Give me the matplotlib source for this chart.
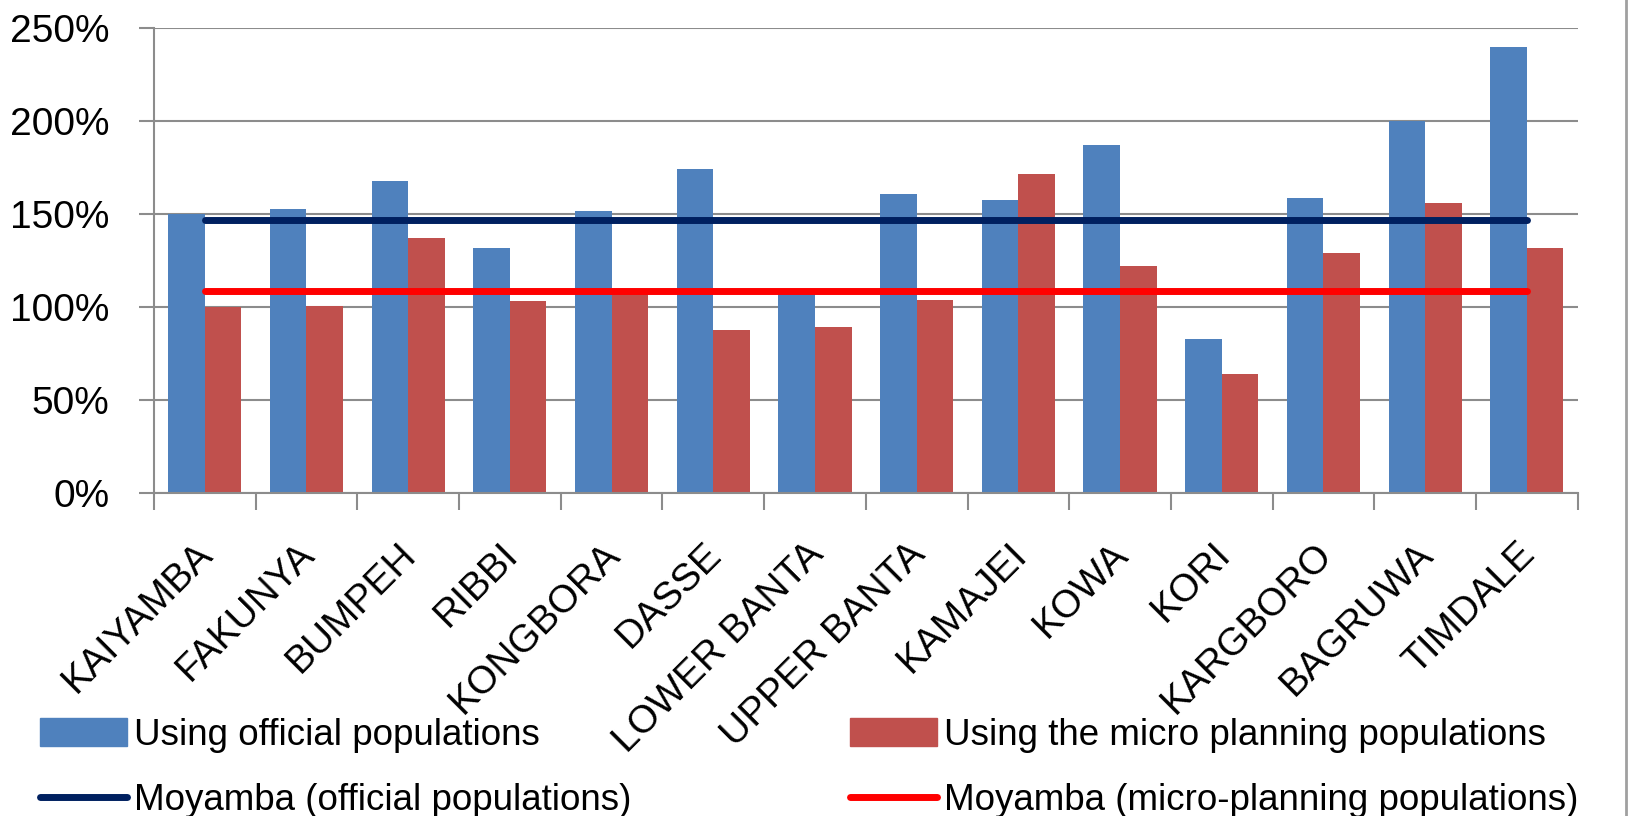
import matplotlib
matplotlib.use("Agg")
import numpy as np
from matplotlib import pyplot as plt
from matplotlib import transforms
from matplotlib.patches import Patch
from matplotlib.lines import Line2D
from matplotlib.ticker import FuncFormatter

plt.rcParams['font.family'] = ['Liberation Sans', 'DejaVu Sans']

chiefdoms = ["KAIYAMBA", "FAKUNYA", "BUMPEH", "RIBBI", "KONGBORA", "DASSE",
             "LOWER BANTA", "UPPER BANTA", "KAMAJEI", "KOWA", "KORI",
             "KARGBORO", "BAGRUWA", "TIMDALE"]
official = [150, 152.5, 168, 131.5, 151.5, 174, 108, 161, 157.5, 187, 83, 158.5, 200, 240]
micro = [100, 100.5, 137, 103, 107, 87.5, 89, 104, 171.5, 122, 64, 129, 156, 131.5]
district_official = 146.6
district_micro = 108.8

blue = "#4F81BD"
red_bar = "#C0504D"
navy = "#002060"
red_line = "#FF0000"
grid_col = "#8C8C8C"

fig = plt.figure(figsize=(16.29, 8.16), dpi=100)
ax = fig.add_axes([0.0945, 0.396, 0.874, 0.5696])

x = np.arange(len(chiefdoms))
w = 0.36
ax.bar(x - w / 2, official, w, color=blue, lw=0, zorder=2)
ax.bar(x + w / 2, micro, w, color=red_bar, lw=0, zorder=2)
ax.plot([x[0], x[-1]], [district_official] * 2, color=navy, lw=5,
        solid_capstyle='round', zorder=3)
ax.plot([x[0], x[-1]], [district_micro] * 2, color=red_line, lw=5,
        solid_capstyle='round', zorder=3)

ax.set_xlim(-0.5, len(chiefdoms) - 0.5)
ax.set_ylim(0, 250)
ax.set_yticks(range(0, 251, 50))
ax.yaxis.set_major_formatter(FuncFormatter(lambda v, p: f"{int(v)}%"))
ax.yaxis.grid(True, color=grid_col, lw=1.5, zorder=0)
ax.set_axisbelow(True)

for s in ['top', 'right']:
    ax.spines[s].set_visible(False)
for s in ['left', 'bottom']:
    ax.spines[s].set_color(grid_col)
    ax.spines[s].set_linewidth(1.5)

# tick marks sit on the category boundaries
ax.set_xticks(np.arange(-0.5, len(chiefdoms), 1.0))
ax.set_xticklabels([])
ax.set_xticks(x, minor=True)
ax.set_xticklabels(chiefdoms, minor=True, rotation=45, ha='right',
                   rotation_mode='anchor', fontsize=28)
ax.tick_params(axis='x', which='major', length=12, width=1.5, color=grid_col)
ax.tick_params(axis='x', which='minor', length=0, pad=24)
ax.tick_params(axis='y', length=11, width=1.5, color=grid_col, labelsize=28, pad=21)

# nudge the slanted names a little down and left
shift = transforms.ScaledTranslation(-0.1, -0.1, fig.dpi_scale_trans)
for lab in ax.get_xticklabels(minor=True):
    lab.set_transform(lab.get_transform() + shift)

h1 = [Patch(color=blue), Line2D([], [], color=navy, lw=5, solid_capstyle='round')]
h2 = [Patch(color=red_bar), Line2D([], [], color=red_line, lw=5, solid_capstyle='round')]
kw = dict(frameon=False, fontsize=26.5, handlelength=2.36, handleheight=0.8,
          handletextpad=0.2, labelspacing=0.82, borderpad=0, borderaxespad=0)
fig.legend(h1, ["Using official populations", "Moyamba (official populations)"],
           loc='upper left', bbox_to_anchor=(40 / 1629, 1 - 718 / 816), **kw)
fig.legend(h2, ["Using the micro planning populations", "Moyamba (micro-planning populations)"],
           loc='upper left', bbox_to_anchor=(850 / 1629, 1 - 718 / 816), **kw)

# outer frame edge on the right
fig.add_artist(Line2D([1626 / 1629] * 2, [0, 1], color="#A0A0A0", lw=2))

fig.savefig("out.png", dpi=100)
